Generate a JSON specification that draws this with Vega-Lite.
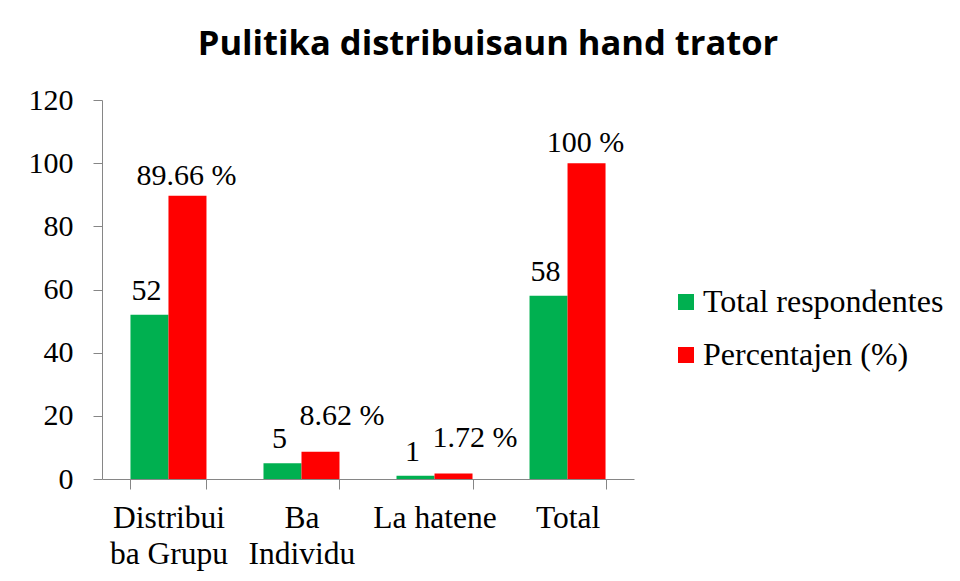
{
  "$schema": "https://vega.github.io/schema/vega-lite/v6.json",
  "width": 532,
  "height": 379,
  "autosize": {"type": "none"},
  "padding": {"left": 102, "top": 100, "right": 326, "bottom": 102},
  "background": "white",
  "title": {
    "text": "Pulitika distribuisaun hand trator",
    "font": "Open Sans",
    "fontWeight": "bold",
    "fontSize": 34.5,
    "color": "black",
    "anchor": "middle",
    "frame": "bounds",
    "dx": 2,
    "offset": 23
  },
  "data": {
    "values": [
      {"kategoria": "Distribui\nba Grupu", "series": "Total respondentes", "value": 52, "label": "52"},
      {"kategoria": "Distribui\nba Grupu", "series": "Percentajen (%)", "value": 89.66, "label": "89.66 %"},
      {"kategoria": "Ba\nIndividu", "series": "Total respondentes", "value": 5, "label": "5"},
      {"kategoria": "Ba\nIndividu", "series": "Percentajen (%)", "value": 8.62, "label": "8.62 %"},
      {"kategoria": "La hatene", "series": "Total respondentes", "value": 1, "label": "1"},
      {"kategoria": "La hatene", "series": "Percentajen (%)", "value": 1.72, "label": "1.72 %"},
      {"kategoria": "Total", "series": "Total respondentes", "value": 58, "label": "58"},
      {"kategoria": "Total", "series": "Percentajen (%)", "value": 100, "label": "100 %"}
    ]
  },
  "encoding": {
    "x": {
      "field": "kategoria",
      "type": "nominal",
      "sort": null,
      "scale": {"paddingInner": 0.4286, "paddingOuter": 0.214},
      "axis": {
        "title": null,
        "labelAngle": 0,
        "labelExpr": "split(datum.label, '\\n')",
        "labelFont": "Liberation Serif",
        "labelFontSize": 31.5,
        "labelColor": "black",
        "labelLineHeight": 36.5,
        "labelPadding": 13,
        "tickBand": "extent",
        "tickSize": 10,
        "tickColor": "#868686",
        "domainColor": "#868686",
        "labelBaseline": "top"
      }
    },
    "xOffset": {
      "field": "series",
      "type": "nominal",
      "sort": ["Total respondentes", "Percentajen (%)"],
      "scale": {"paddingInner": 0, "paddingOuter": 0}
    },
    "y": {
      "field": "value",
      "type": "quantitative",
      "scale": {"domain": [0, 120]},
      "axis": {
        "title": null,
        "values": [0, 20, 40, 60, 80, 100, 120],
        "grid": false,
        "labelFont": "Liberation Serif",
        "labelFontSize": 30,
        "labelColor": "black",
        "labelPadding": 20,
        "tickSize": 9,
        "tickColor": "#868686",
        "domainColor": "#868686"
      }
    }
  },
  "layer": [
    {
      "mark": {"type": "bar"},
      "encoding": {
        "color": {
          "field": "series",
          "type": "nominal",
          "sort": ["Total respondentes", "Percentajen (%)"],
          "scale": {"domain": ["Total respondentes", "Percentajen (%)"], "range": ["#00B050", "#FF0000"]},
          "legend": {
            "title": null,
            "orient": "none",
            "legendX": 568,
            "legendY": 186,
            "symbolType": "square",
            "symbolSize": 256,
            "symbolStrokeWidth": 0,
            "labelFont": "Liberation Serif",
            "labelFontSize": 32,
            "labelColor": "black",
            "labelOffset": 1,
            "rowPadding": 21,
            "labelLimit": 400
          }
        }
      }
    },
    {
      "transform": [{"filter": "datum.series === 'Total respondentes'"}],
      "mark": {"type": "text", "font": "Liberation Serif", "fontSize": 30, "color": "black", "baseline": "alphabetic", "align": "center", "dx": -3, "dy": -15},
      "encoding": {
        "text": {"field": "label"}
      }
    },
    {
      "transform": [{"filter": "datum.series === 'Percentajen (%)' && datum.value >= 50"}],
      "mark": {"type": "text", "font": "Liberation Serif", "fontSize": 30, "color": "black", "baseline": "alphabetic", "align": "center", "dx": -1, "dy": -11},
      "encoding": {
        "text": {"field": "label"}
      }
    },
    {
      "transform": [{"filter": "datum.series === 'Percentajen (%)' && datum.value < 50"}],
      "mark": {"type": "text", "font": "Liberation Serif", "fontSize": 30, "color": "black", "baseline": "alphabetic", "align": "left", "dx": -21, "dy": -27},
      "encoding": {
        "text": {"field": "label"}
      }
    }
  ],
  "config": {
    "view": {"stroke": null}
  }
}
